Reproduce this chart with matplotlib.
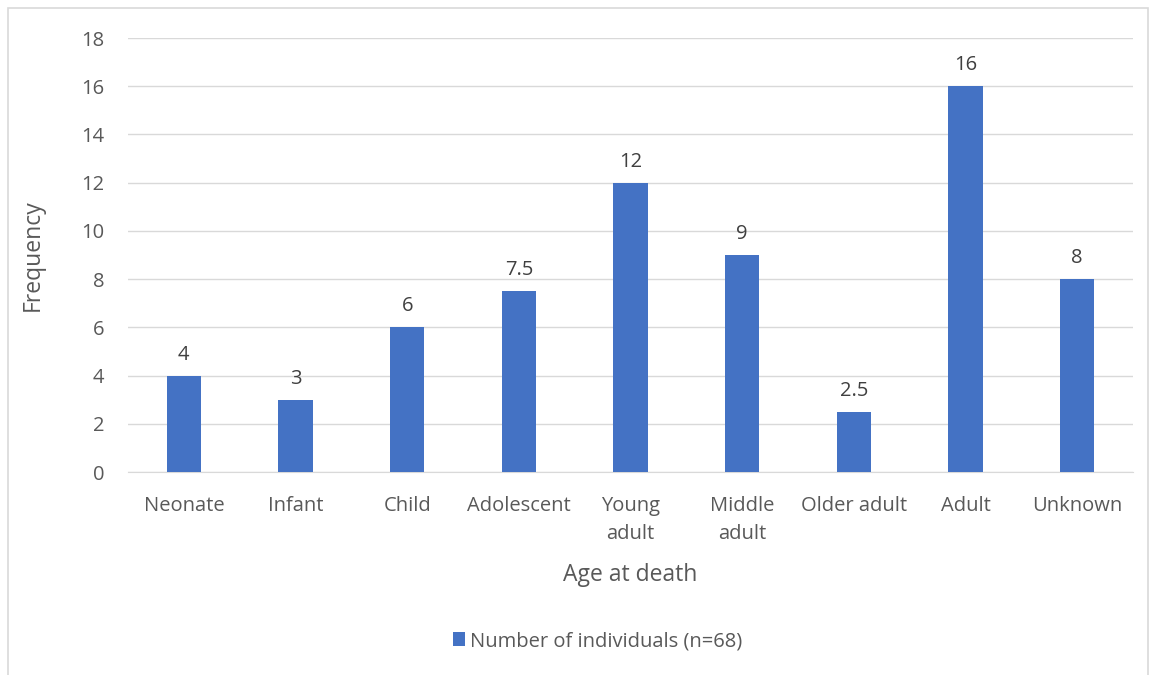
import matplotlib.pyplot as plt
from matplotlib.patches import Rectangle

plt.rcParams['font.family'] = ['Open Sans', 'DejaVu Sans']

categories = ['Neonate', 'Infant', 'Child', 'Adolescent', 'Young\nadult',
              'Middle\nadult', 'Older adult', 'Adult', 'Unknown']
values = [4, 3, 6, 7.5, 12, 9, 2.5, 16, 8]
value_labels = ['4', '3', '6', '7.5', '12', '9', '2.5', '16', '8']
yticks = [0, 2, 4, 6, 8, 10, 12, 14, 16, 18]

grey = '#595959'
fig = plt.figure(figsize=(11.5, 6.75), dpi=100)
fig.patches.append(Rectangle((8/1150, -0.01), (1148-8)/1150, 1 - 8/675 + 0.01,
                             transform=fig.transFigure, fill=False,
                             edgecolor='#d9d9d9', linewidth=1.2))

ax = fig.add_axes([128/1150, 1 - 472/675, (1133-128)/1150, (472-38)/675])
x = range(len(categories))
bars = ax.bar(x, values, width=0.31, color='#4472C4', zorder=3,
              label='Number of individuals (n=68)')
for xi, v, lab in zip(x, values, value_labels):
    ax.text(xi, v + 0.45, lab, ha='center', va='bottom', fontsize=14.5, color='#404040')

ax.set_xlim(-0.5, len(categories) - 0.5)
ax.set_ylim(0, 18)
ax.set_yticks(yticks)
ax.set_xticks(list(x))
ax.set_xticklabels(categories, fontsize=14.5, color=grey, linespacing=1.55)
ax.tick_params(axis='y', labelsize=14.5, labelcolor=grey, length=0, pad=17)
ax.tick_params(axis='x', length=0, pad=17)
ax.grid(axis='y', color='#d9d9d9', linewidth=1, zorder=0)
for s in ['top', 'right', 'left']:
    ax.spines[s].set_visible(False)
ax.spines['bottom'].set_color('#d9d9d9')

ax.set_xlabel('Age at death', fontsize=16.5, color=grey, labelpad=14)
ax.set_ylabel('Frequency', fontsize=16.5, color=grey, labelpad=26)

fig.legend(handles=[bars], loc='center', bbox_to_anchor=(598/1150, 1 - 641/675),
           frameon=False, fontsize=14.5, labelcolor=grey, handlelength=0.6,
           handleheight=0.7, handletextpad=0.25)

plt.savefig('out.png')
